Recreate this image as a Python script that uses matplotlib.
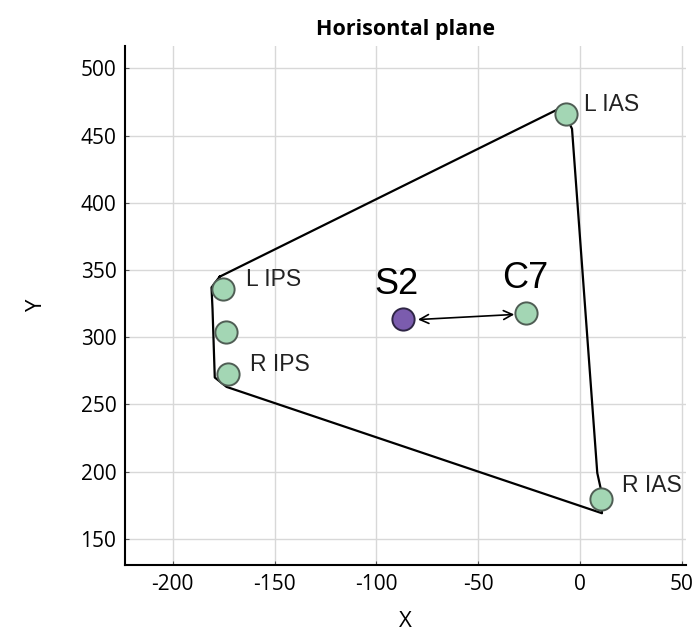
import matplotlib
matplotlib.use('Agg')
import matplotlib.pyplot as plt

# marker points (x, y)
names = ['L IAS', 'L IPS', 'mid IPS', 'R IPS', 'R IAS', 'C7']
px = [-7.0, -175.3, -174.0, -172.8, 10.2, -26.7]
py = [466.3, 335.6, 303.9, 272.5, 179.5, 318.0]
s2_x, s2_y = -86.8, 313.3

# hand drawn outline
outline_x = [-177, -9, -4, 8.4, 10, 10.7, -173.6, -179.4, -180.5, -181, -177]
outline_y = [345, 471, 455, 199, 188, 169, 263, 270, 321, 337, 345]

labels = ['L IAS', 'L IPS', 'R IPS', 'R IAS']
label_x = [2, -164, -162, 20.5]
label_y = [473, 343, 280, 190]

xticks = [-200, -150, -100, -50, 0, 50]
yticks = [150, 200, 250, 300, 350, 400, 450, 500]

plt.rcParams['font.family'] = ['Open Sans', 'DejaVu Sans']
plt.rcParams['axes.unicode_minus'] = False

fig = plt.figure(figsize=(6.93, 6.31), dpi=100)
ax = fig.add_axes([0.180, 0.104, 0.810, 0.823])

ax.plot(outline_x, outline_y, color='black', lw=1.6, zorder=2)

ax.annotate('', xy=(-81, 313), xytext=(-31, 317),
            arrowprops=dict(arrowstyle='<->', color='black', lw=1.2,
                            mutation_scale=16), zorder=2)

ax.plot(px, py, 'o', ms=16, mfc='#a3d6b4', mec='#4f5d54', mew=1.4, zorder=3)
ax.plot([s2_x], [s2_y], 'o', ms=16, mfc='#7b5cae', mec='#2e2545', mew=1.4, zorder=3)

for t, x, y in zip(labels, label_x, label_y):
    ax.text(x, y, t, fontsize=16.5, family='Liberation Sans', color='#222222',
            ha='left', va='center')
ax.text(-90, 339, 'S2', fontsize=26, family='Liberation Sans', ha='center', va='center')
ax.text(-27, 344, 'C7', fontsize=26, family='Liberation Sans', ha='center', va='center')

ax.set_xlim(-223.6, 52)
ax.set_ylim(130.2, 516.6)
ax.set_xticks(xticks)
ax.set_yticks(yticks)
ax.grid(True, color='#d8d8d8', lw=1)
ax.set_axisbelow(True)
ax.tick_params(direction='in', length=3, labelsize=15, color='#555555', pad=6)
ax.spines['top'].set_visible(False)
ax.spines['right'].set_visible(False)
ax.spines['left'].set_linewidth(1.5)
ax.spines['bottom'].set_linewidth(1.5)

ax.set_xlabel('X', fontsize=16, labelpad=12)
ax.set_ylabel('Y', fontsize=16, labelpad=24)
ax.set_title('Horisontal plane', fontsize=15.5, fontweight='bold', pad=8)

fig.savefig('out.png', dpi=100)
